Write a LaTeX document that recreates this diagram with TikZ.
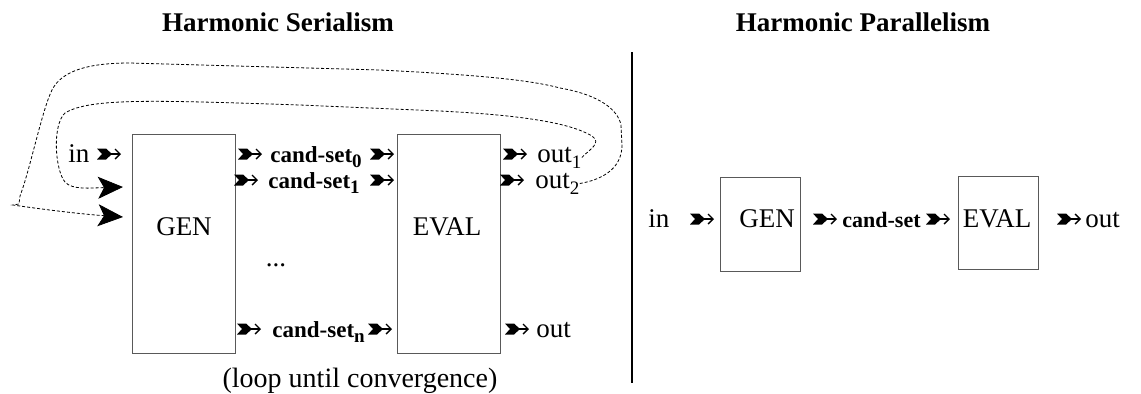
\documentclass[tikz,border=0pt]{standalone}
\usepackage{fontspec}
\setmainfont{Liberation Serif}
\usetikzlibrary{arrows.meta,calc,positioning}
\tikzset{
  title/.style = {font=\fontsize{13.5}{16}\selectfont\bfseries, inner sep=0pt, anchor=base},
  lbl/.style = {font=\fontsize{13.5}{16}\selectfont, inner sep=0pt, anchor=base west},
  cset/.style = {font=\fontsize{11.5}{14}\selectfont\bfseries, inner sep=0pt, anchor=base west},
  box/.style = {draw=black!65, line width=0.5pt, inner sep=0pt},
  feedback/.style = {dash pattern=on 1.5pt off 1pt, line width=0.4pt,
    -{Stealth[length=12.5pt, width=11pt, inset=3pt]}},
  feather/.pic = {
    \fill (0,-5.5) -- (9,-5.5) -- (15,0) -- (9,5.5) -- (0,5.5) -- (5,0) -- cycle;
    \draw [line width=0.7pt, -{Straight Barb[length=2.5pt, width=5pt]}] (13,0) -- (24,0);
  }
}
\newcommand{\sub}[1]{\raisebox{-0.5ex}{\fontsize{9.5}{10}\selectfont #1}}
\begin{document}
\begin{tikzpicture}[x=0.5pt, y=-0.5pt]
\useasboundingbox (0,0) rectangle (1141,393);
% titles and divider
\node [title] (hs) at (278,31) {Harmonic Serialism};
\node [title] (hp) at (863,31) {Harmonic Parallelism};
\coordinate (divtop) at (632,52);
\coordinate (divbot) at (632,383);
\draw [line width=0.7pt] (divtop) -- (divbot);
% serialism: boxes
\node [box, minimum width=51.5pt, minimum height=109.5pt] (gen) at (183.5,243.5) {};
\node [box, minimum width=51.5pt, minimum height=109.5pt] (eval) at (448.5,243.5) {};
\node [lbl, anchor=base] (genl) at (184,235) {GEN};
\node [lbl, anchor=base] (evall) at (447,235) {EVAL};
% first row
\node [lbl] (in) at (68,162) {in};
\pic at (97,154) {feather};
\pic at (238,154) {feather};
\node [cset] (cs0) at (270,162) {cand-set\sub{0}};
\pic at (370,154) {feather};
\pic at (503,154) {feather};
\node [lbl] (out1) at (537,162) {out\sub{1}};
% second row
\pic at (234,180) {feather};
\node [cset] (cs1) at (268,188) {cand-set\sub{1}};
\pic at (370,180) {feather};
\pic at (500,180) {feather};
\node [lbl] (out2) at (535,188) {out\sub{2}};
% last row
\node [lbl, anchor=base] (dots) at (276,266) {...};
\pic at (237,329) {feather};
\node [cset] (csn) at (272,337) {cand-set\sub{n}};
\pic at (368,329) {feather};
\pic at (505,329) {feather};
\node [lbl] (outn) at (536,337) {out};
\node [lbl, anchor=base, font=\fontsize{14}{16}\selectfont] (until) at (360,387) {(loop until convergence)};
% feedback loops
\coordinate (tip1) at (123,187);
\coordinate (tip2) at (123,217);
\draw [feedback] (out1.east) .. controls (590,149) and (602,143) .. (592,136)
  .. controls (575,126) and (540,116) .. (440,111) -- (300,105)
  .. controls (150,100) and (90,98) .. (65,113)
  .. controls (52,125) and (55,170) .. (65,182)
  .. controls (72,190) and (90,188) .. (tip1);
\draw [feedback] (out2.east) .. controls (600,180) and (622,170) .. (622,145) -- (621,125)
  .. controls (618,110) and (600,95) .. (560,88)
  .. controls (530,80) and (480,75) .. (380,70) -- (130,63)
  .. controls (90,63) and (62,70) .. (52,90)
  .. controls (42,110) and (30,170) .. (20,196) -- (19,204) -- (13,205)
  .. controls (40,209) and (80,214) .. (tip2);
% parallelism
\node [box, minimum width=40pt, minimum height=47pt] (gen2) at (760,224) {};
\node [box, minimum width=40pt, minimum height=46.5pt] (eval2) at (998,222.5) {};
\node [lbl, anchor=base] (gen2l) at (767,227) {GEN};
\node [lbl, anchor=base] (eval2l) at (997,227) {EVAL};
\node [lbl] (in2) at (648,227) {in};
\pic at (690,219) {feather};
\pic at (813,219) {feather};
\node [cset, font=\fontsize{11}{13}\selectfont\bfseries] (cs2) at (842,227) {cand-set};
\pic at (926,219) {feather};
\pic at (1057,219) {feather};
\node [lbl] (out3) at (1085,227) {out};
\end{tikzpicture}
\end{document}
